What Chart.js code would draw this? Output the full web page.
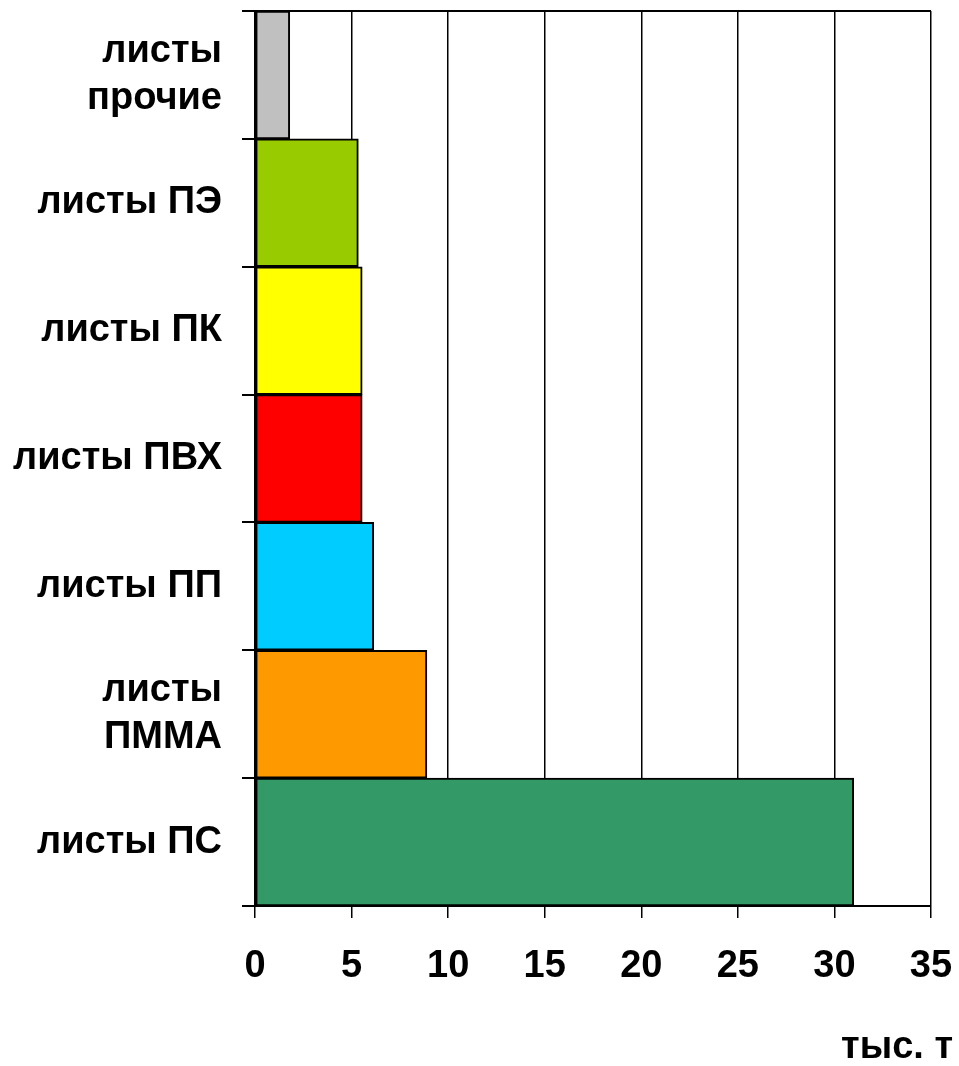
<!DOCTYPE html>
<html>
<head>
<meta charset="utf-8">
<script src="https://cdn.jsdelivr.net/npm/chart.js@4/dist/chart.umd.min.js"></script>
<style>
  html, body { margin: 0; padding: 0; background: #fff; }
  #wrap { width: 959px; height: 1066px; position: relative; }
</style>
</head>
<body>
<div id="wrap"><canvas id="c" width="959" height="1066"></canvas></div>
<script>
const categories = [["листы", "прочие"], "листы ПЭ", "листы ПК", "листы ПВХ", "листы ПП", ["листы", "ПММА"], "листы ПС"];
const values = [1.8, 5.35, 5.55, 5.55, 6.15, 8.9, 31.0];
const barColors = ["#C0C0C0", "#99CC00", "#FFFF00", "#FF0000", "#00CCFF", "#FF9900", "#339966"];
const xTicks = [0, 5, 10, 15, 20, 25, 30, 35];
const unitLabel = "тыс. т";

const FONT = "'Liberation Sans', Arial, sans-serif";

const unitPlugin = {
  id: 'unitLabel',
  afterDraw(chart) {
    const ctx = chart.ctx;
    const area = chart.chartArea;
    ctx.save();
    ctx.font = "bold 38px " + FONT;
    ctx.fillStyle = "#000";
    ctx.textAlign = "right";
    ctx.textBaseline = "alphabetic";
    ctx.fillText(unitLabel, area.right + 22, 1058);
    ctx.restore();
  }
};

new Chart(document.getElementById('c'), {
  type: 'bar',
  data: {
    labels: categories,
    datasets: [{
      data: values,
      backgroundColor: barColors,
      borderColor: "#000",
      borderWidth: 2,
      borderSkipped: false,
      barPercentage: 1,
      categoryPercentage: 1
    }]
  },
  options: {
    indexAxis: 'y',
    responsive: false,
    animation: false,
    devicePixelRatio: 1,
    layout: { padding: { top: 11, right: 28, left: 0, bottom: 0 } },
    plugins: { legend: { display: false }, tooltip: { enabled: false } },
    scales: {
      x: {
        min: 0, max: 35,
        afterBuildTicks(scale) { scale.ticks = xTicks.map(v => ({ value: v })); },
        grid: { color: "#000", lineWidth: 1.5, tickLength: 12, tickColor: "#000", drawOnChartArea: true },
        border: { color: "#000", width: 2 },
        ticks: { color: "#000", font: { family: FONT, size: 38, weight: 'bold' }, padding: 26, maxRotation: 0 },
        afterFit(scale) { scale.height = 160; scale.paddingLeft = 0; scale.paddingRight = 0; }
      },
      y: {
        grid: {
          offset: true,
          drawOnChartArea: true,
          color: (c) => c.index === 0 ? "#000" : "rgba(0,0,0,0)",
          lineWidth: 2,
          tickLength: 13,
          tickColor: "#000"
        },
        border: { color: "#000", width: 2 },
        ticks: { color: "#000", font: { family: FONT, size: 38, weight: 'bold', lineHeight: 1.25 }, padding: 20 },
        afterFit(scale) { scale.width = 255; scale.paddingTop = 0; scale.paddingBottom = 0; }
      }
    }
  },
  plugins: [unitPlugin]
});
</script>
</body>
</html>
